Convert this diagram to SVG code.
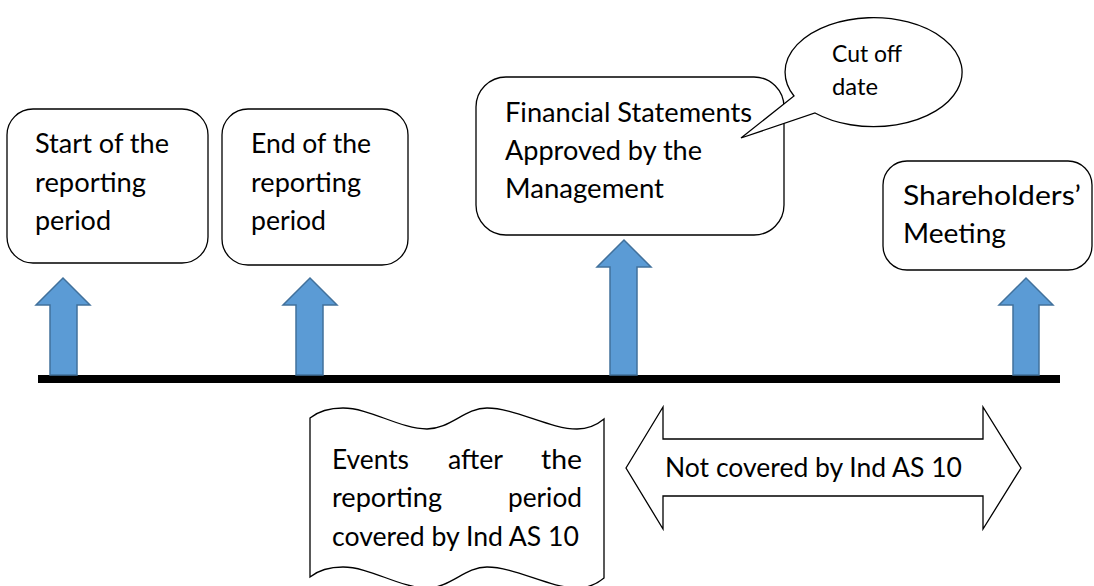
<svg xmlns="http://www.w3.org/2000/svg" width="1094" height="586" viewBox="0 0 1094 586">
<defs>
<style>
.box{fill:#fff;stroke:#000;stroke-width:1.3}
.arr{fill:#5B9BD5;stroke:#41719C;stroke-width:1.5}
.t{font-family:Lato,"Open Sans","Liberation Sans",sans-serif;font-size:27px;fill:#000}
.s{font-size:24px}
</style>
</defs>
<rect width="1094" height="586" fill="#fff"/>
<g id="timeline">
<rect x="38" y="375" width="1022" height="8" fill="#000"/>
</g>
<g id="connectors">
<path class="arr" d="M50,375 V305 H36 L63,278 L90,305 H77 V375 Z"/>
<path class="arr" d="M296,375 V305 H283 L310,278 L337,305 H323 V375 Z"/>
<path class="arr" d="M610,375 V267 H597 L624,240 L651,267 H637 V375 Z"/>
<path class="arr" d="M1013,375 V305 H999 L1026,278 L1053,305 H1039 V375 Z"/>
</g>
<g id="start">
<rect class="box" x="7" y="109" width="201" height="154" rx="26"/>
<text class="t" x="35" y="153" textLength="134" lengthAdjust="spacingAndGlyphs">Start of the</text>
<text class="t" x="35" y="192" textLength="111" lengthAdjust="spacingAndGlyphs">reporting</text>
<text class="t" x="35" y="230" textLength="76" lengthAdjust="spacingAndGlyphs">period</text>
</g>
<g id="end">
<rect class="box" x="222" y="109" width="186" height="156" rx="26"/>
<text class="t" x="251" y="153" textLength="120" lengthAdjust="spacingAndGlyphs">End of the</text>
<text class="t" x="251" y="192" textLength="110" lengthAdjust="spacingAndGlyphs">reporting</text>
<text class="t" x="251" y="230" textLength="75" lengthAdjust="spacingAndGlyphs">period</text>
</g>
<g id="approved">
<rect class="box" x="476" y="77" width="308" height="158" rx="30"/>
<text class="t" x="505" y="122" textLength="247" lengthAdjust="spacingAndGlyphs">Financial Statements</text>
<text class="t" x="505" y="160" textLength="197" lengthAdjust="spacingAndGlyphs">Approved by the</text>
<text class="t" x="505" y="198" textLength="159" lengthAdjust="spacingAndGlyphs">Management</text>
</g>
<g id="cutoff">
<path class="box" d="M794,96 A88.5,54.5 0 1 1 815,113 L741,138 Z"/>
<text class="t s" x="832" y="62" textLength="70" lengthAdjust="spacingAndGlyphs">Cut off</text>
<text class="t s" x="832" y="95" textLength="46" lengthAdjust="spacingAndGlyphs">date</text>
</g>
<g id="shareholders">
<rect class="box" x="883" y="161" width="209" height="109" rx="24"/>
<text class="t" x="903" y="205" textLength="178" lengthAdjust="spacingAndGlyphs">Shareholders’</text>
<text class="t" x="903" y="243" textLength="103" lengthAdjust="spacingAndGlyphs">Meeting</text>
</g>
<g id="events">
<path class="box" d="M310,418 C320,410 332,408 343,408 C370,408 400,429 427,429 C450,429 465,408 487,408 C515,408 550,429 577,429 C590,429 598,424 604,419 V578 C598,583 590,588 577,588 C550,588 515,567 487,567 C465,567 450,588 427,588 C400,588 370,567 343,567 C332,567 320,569 310,577 Z"/>
<text class="t" x="332" y="469" textLength="77" lengthAdjust="spacingAndGlyphs">Events</text>
<text class="t" x="448" y="469" textLength="55" lengthAdjust="spacingAndGlyphs">after</text>
<text class="t" x="541" y="469" textLength="41" lengthAdjust="spacingAndGlyphs">the</text>
<text class="t" x="332" y="507" textLength="110" lengthAdjust="spacingAndGlyphs">reporting</text>
<text class="t" x="508" y="507" textLength="74" lengthAdjust="spacingAndGlyphs">period</text>
<text class="t" x="332" y="546" textLength="247" lengthAdjust="spacingAndGlyphs">covered by Ind AS 10</text>
</g>
<g id="notcovered">
<path class="box" d="M626,468 L663,407 V439 H983 V407 L1021,468 L983,529 V496 H663 V529 Z"/>
<text class="t" x="665" y="477" textLength="297" lengthAdjust="spacingAndGlyphs">Not covered by Ind AS 10</text>
</g>
</svg>
